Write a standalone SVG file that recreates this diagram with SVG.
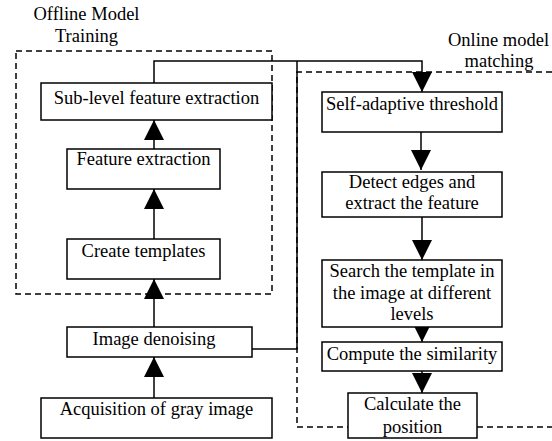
<svg xmlns="http://www.w3.org/2000/svg" width="552" height="441" viewBox="0 0 552 441">
<style>
text{font-size:18.5px;fill:#000;text-anchor:middle}
.box{fill:#fff;stroke:#000;stroke-width:1.5}
.dash{fill:none;stroke:#000;stroke-width:1.5;stroke-dasharray:6 4}
.conn{fill:none;stroke:#000;stroke-width:1.5}
</style>
<defs>
<marker id="arr" markerUnits="userSpaceOnUse" markerWidth="20" markerHeight="20" viewBox="0 0 20 20" refX="20" refY="10" orient="auto">
<path d="M0,0 L20,10 L0,20 z" fill="#000"/>
</marker>
</defs>
<rect width="552" height="441" fill="#fff"/>
<g font-family="'Liberation Serif', 'Times New Roman', Times, serif">
<g id="offline-group">
<rect class="dash" x="16" y="51" width="256" height="243"/>
<text x="86.5" y="20">Offline Model</text>
<text x="86.5" y="42">Training</text>
</g>
<g id="online-group">
<path class="dash" d="M552,72 H297 V427 H552"/>
<text x="498.5" y="46">Online model</text>
<text x="499" y="67">matching</text>
</g>
<g id="connectors">
<path class="conn" d="M154,83 V61 H422 V92" marker-end="url(#arr)"/>
<path class="conn" d="M252,349 H297 V61"/>
<path class="conn" d="M154,398 V357" marker-end="url(#arr)"/>
<path class="conn" d="M154,327 V279" marker-end="url(#arr)"/>
<path class="conn" d="M154,239 V189" marker-end="url(#arr)"/>
<path class="conn" d="M154,149 V120" marker-end="url(#arr)"/>
<path class="conn" d="M421,132 V170" marker-end="url(#arr)"/>
<path class="conn" d="M422,217 V260" marker-end="url(#arr)"/>
<path class="conn" d="M422,327 V342" marker-end="url(#arr)"/>
<path class="conn" d="M422,371 V393" marker-end="url(#arr)"/>
</g>
<g id="sub-level">
<rect class="box" x="41" y="83" width="231" height="37"/>
<text x="156.5" y="104">Sub-level feature extraction</text>
</g>
<g id="feature-extraction">
<rect class="box" x="67" y="149" width="153" height="40"/>
<text x="143.5" y="165">Feature extraction</text>
</g>
<g id="create-templates">
<rect class="box" x="67" y="239" width="153" height="40"/>
<text x="143.5" y="257">Create templates</text>
</g>
<g id="image-denoising">
<rect class="box" x="67" y="327" width="185" height="30"/>
<text x="154" y="345">Image denoising</text>
</g>
<g id="acquisition">
<rect class="box" x="41" y="398" width="231" height="40"/>
<text x="156.5" y="415">Acquisition of gray image</text>
</g>
<g id="self-adaptive">
<rect class="box" x="322" y="92" width="180" height="40"/>
<text x="412" y="110">Self-adaptive threshold</text>
</g>
<g id="detect-edges">
<rect class="box" x="322" y="172" width="180" height="45"/>
<text x="412" y="188">Detect edges and</text>
<text x="412" y="209">extract the feature</text>
</g>
<g id="search-template">
<rect class="box" x="322" y="260" width="180" height="67"/>
<text x="412" y="277">Search the template in</text>
<text x="412" y="299">the image at different</text>
<text x="412" y="320">levels</text>
</g>
<g id="compute-similarity">
<rect class="box" x="322" y="342" width="180" height="29"/>
<text x="412" y="360">Compute the similarity</text>
</g>
<g id="calculate-position">
<rect class="box" x="348" y="393" width="129" height="45"/>
<text x="412.5" y="410">Calculate the</text>
<text x="412.5" y="433">position</text>
</g>
</g>
</svg>
